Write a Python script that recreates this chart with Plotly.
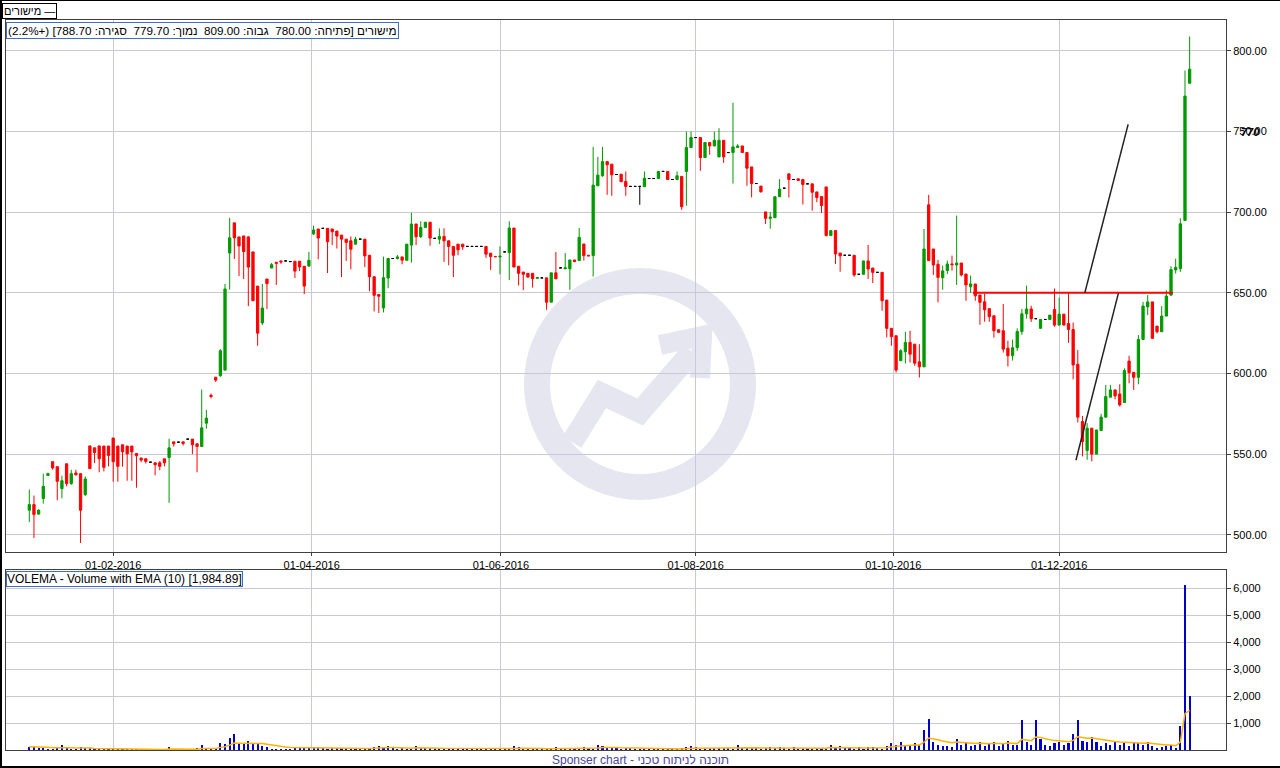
import plotly.graph_objects as go

W, H = 1280, 768

# ---------------- data ----------------
open_ = [
    515.2, 518.7, 512.8, 522.4, 536.8, 545.3, 542.2, 528.6, 544.0, 531.7,
    538.3, 537.9, 524.9, 555.1, 553.9, 555.1, 555.0, 555.0, 560.0, 555.0,
    555.8, 555.0, 555.0, 550.4, 547.5, 547.1, 545.0, 544.6, 544.6, 547.1,
    547.9, 557.6, 557.4, 557.6, 559.3, 559.3, 556.4, 554.7, 569.2, 586.5,
    597.7, 598.6, 602.1, 674.7, 693.4, 684.7, 685.3, 684.7, 675.4, 654.2,
    631.3, 658.6, 665.4, 669.0, 669.8, 669.8, 669.4, 669.6, 669.6, 666.5,
    666.7, 686.5, 689.6, 690.0, 690.0, 689.6, 688.3, 685.8, 683.3, 682.3,
    680.2, 683.3, 683.3, 673.3, 660.0, 649.0, 640.6, 659.2, 671.3, 671.3,
    672.3, 670.2, 679.6, 692.7, 684.8, 690.6, 693.8, 683.8, 683.3, 685.0,
    682.3, 678.8, 680.2, 680.2, 678.8, 678.8, 678.8, 678.8, 678.8, 674.6,
    672.6, 672.3, 675.4, 675.0, 690.2, 666.5, 662.9, 662.1, 662.1, 659.0,
    659.3, 659.3, 644.2, 662.4, 665.5, 664.9, 664.9, 670.4, 670.0, 680.3,
    673.3, 673.1, 716.4, 722.6, 731.4, 729.8, 723.4, 723.6, 719.1, 716.0,
    716.0, 716.0, 715.8, 720.9, 720.9, 720.9, 725.3, 725.3, 720.3, 720.3,
    722.2, 725.3, 740.1, 746.3, 746.3, 733.9, 743.2, 741.1, 734.3, 744.6,
    737.0, 737.0, 740.1, 741.1, 737.0, 728.1, 717.8, 716.2, 700.2, 696.2,
    696.6, 709.6, 714.9, 723.8, 720.3, 720.7, 720.3, 717.6, 717.6, 712.6,
    709.7, 715.7, 685.5, 688.6, 674.7, 673.3, 673.3, 673.3, 661.5, 661.5,
    669.8, 665.4, 662.7, 662.7, 645.5, 628.0, 623.4, 607.9, 613.5, 619.3,
    618.2, 607.2, 604.1, 704.6, 677.2, 667.7, 659.4, 663.8, 667.9, 667.3,
    668.5, 661.7, 653.8, 655.5, 648.7, 644.5, 640.2, 635.8, 627.1, 626.5,
    615.7, 611.0, 616.0, 626.0, 637.0, 640.0, 634.0, 628.0, 633.5, 633.5,
    639.7, 630.0, 636.8, 631.0, 627.3, 605.7, 570.2, 552.3, 566.1, 550.0,
    564.6, 572.9, 585.3, 589.8, 587.3, 582.0, 607.7, 600.7, 597.6, 621.1,
    641.3, 644.4, 629.4, 625.9, 635.6, 648.6, 664.2, 665.0, 694.9, 780.0,
]
high = [
    528.0, 524.3, 515.8, 537.9, 538.5, 545.5, 542.2, 536.6, 544.0, 540.3,
    540.3, 538.0, 536.2, 555.1, 554.0, 555.1, 555.0, 555.0, 560.0, 555.0,
    555.8, 555.0, 555.0, 550.6, 548.0, 547.5, 545.0, 544.6, 545.7, 547.1,
    559.5, 557.6, 557.4, 557.6, 559.3, 559.3, 556.4, 590.0, 577.4, 587.5,
    597.7, 615.1, 655.5, 696.5, 693.4, 684.7, 685.3, 685.3, 675.4, 654.2,
    655.5, 658.6, 668.5, 669.0, 670.0, 669.8, 669.4, 669.6, 669.6, 666.5,
    675.4, 691.7, 689.6, 690.0, 690.0, 689.6, 688.3, 685.8, 683.3, 685.0,
    684.8, 683.3, 683.3, 673.3, 660.0, 649.0, 672.5, 671.3, 671.3, 673.5,
    672.3, 680.2, 699.6, 692.7, 694.4, 693.8, 693.8, 683.8, 690.0, 690.0,
    682.3, 678.8, 680.2, 680.2, 678.8, 678.8, 678.8, 678.8, 678.8, 674.6,
    672.6, 678.8, 675.4, 694.4, 690.2, 666.5, 662.9, 662.1, 662.1, 659.5,
    659.3, 659.3, 662.4, 675.4, 665.5, 674.7, 670.4, 670.4, 690.2, 680.3,
    673.3, 740.5, 734.3, 740.5, 731.4, 729.8, 723.4, 723.6, 725.3, 716.0,
    716.0, 716.0, 725.3, 720.9, 720.9, 725.3, 725.3, 725.3, 720.3, 725.3,
    722.2, 750.0, 750.0, 746.3, 746.3, 743.2, 743.2, 750.0, 752.1, 744.6,
    737.0, 767.9, 742.2, 741.1, 737.0, 728.1, 717.8, 716.2, 700.2, 700.2,
    709.6, 720.5, 714.9, 723.8, 720.3, 720.7, 720.3, 717.6, 717.6, 712.6,
    709.7, 715.7, 688.6, 688.6, 674.7, 673.3, 673.3, 673.3, 661.5, 669.8,
    679.7, 665.4, 662.7, 662.7, 645.5, 628.0, 623.4, 615.1, 625.9, 626.5,
    618.2, 618.2, 689.6, 710.8, 677.2, 670.4, 666.9, 670.0, 673.1, 697.9,
    668.5, 661.7, 660.7, 655.5, 648.7, 649.3, 640.2, 635.8, 627.6, 643.1,
    620.3, 621.0, 628.0, 640.0, 654.5, 642.0, 634.0, 633.5, 633.5, 636.2,
    652.7, 647.1, 636.8, 650.0, 631.6, 614.5, 573.7, 569.2, 566.1, 565.0,
    575.0, 592.9, 592.9, 589.8, 593.3, 603.2, 611.0, 600.7, 623.8, 644.4,
    648.6, 644.4, 629.4, 641.8, 651.6, 666.5, 671.2, 696.3, 787.9, 809.0,
]
low = [
    507.8, 498.0, 512.5, 519.3, 536.5, 540.3, 521.4, 522.6, 530.0, 531.0,
    536.6, 494.9, 524.0, 541.0, 544.4, 538.7, 539.3, 542.4, 532.9, 532.9,
    542.2, 533.5, 533.5, 529.2, 545.0, 544.2, 545.0, 536.8, 540.0, 542.4,
    519.8, 554.7, 557.4, 555.3, 559.3, 550.0, 538.7, 554.7, 565.8, 584.5,
    594.8, 598.0, 601.7, 652.0, 671.0, 660.5, 658.6, 641.8, 645.1, 617.2,
    630.0, 640.0, 665.4, 654.9, 668.0, 669.8, 669.4, 659.2, 663.5, 649.2,
    666.0, 686.0, 670.8, 690.0, 662.3, 679.6, 677.5, 659.8, 669.8, 664.6,
    680.0, 683.3, 666.0, 651.0, 638.5, 637.5, 637.9, 652.9, 671.3, 670.8,
    667.7, 670.2, 668.8, 679.6, 684.0, 690.6, 679.2, 683.8, 680.2, 669.2,
    667.1, 659.8, 673.3, 676.7, 678.8, 678.8, 678.8, 678.8, 671.7, 664.2,
    672.4, 661.5, 675.4, 657.9, 666.0, 654.6, 651.7, 659.4, 653.3, 659.0,
    659.3, 639.5, 644.2, 658.7, 665.5, 664.9, 651.9, 669.0, 670.0, 670.0,
    672.9, 660.1, 716.4, 722.0, 710.8, 710.2, 723.4, 718.9, 710.2, 716.0,
    716.0, 704.6, 715.8, 720.9, 720.9, 720.9, 725.3, 720.3, 720.3, 720.3,
    701.5, 704.0, 740.1, 746.3, 725.7, 733.9, 735.6, 741.1, 734.3, 730.6,
    737.0, 717.8, 740.1, 737.0, 716.4, 709.2, 717.8, 712.1, 692.7, 689.8,
    696.6, 709.6, 714.9, 709.1, 720.3, 719.7, 704.8, 717.6, 701.0, 706.2,
    699.6, 685.1, 685.5, 667.9, 663.1, 673.3, 673.3, 660.0, 661.5, 661.5,
    658.6, 656.1, 662.7, 638.9, 622.4, 617.2, 600.6, 607.9, 606.2, 606.8,
    604.8, 597.5, 604.1, 670.0, 661.1, 644.1, 652.0, 661.7, 663.8, 654.9,
    660.2, 645.1, 649.9, 645.1, 630.2, 632.1, 632.1, 622.2, 625.0, 613.0,
    604.3, 608.0, 614.0, 624.0, 634.0, 632.0, 634.0, 628.0, 633.5, 633.5,
    629.0, 630.0, 630.0, 619.0, 596.4, 569.6, 548.6, 546.5, 545.5, 550.0,
    564.6, 572.9, 585.3, 584.0, 579.5, 582.0, 593.9, 589.8, 593.3, 621.1,
    636.2, 621.8, 624.8, 625.9, 635.6, 648.0, 662.0, 663.0, 694.9, 779.7,
]
close = [
    518.7, 512.6, 515.2, 530.0, 537.9, 541.4, 533.1, 533.5, 531.7, 537.9,
    537.2, 515.2, 534.6, 541.0, 551.0, 547.1, 541.8, 549.2, 545.3, 542.4,
    551.4, 550.2, 551.4, 549.0, 546.3, 545.5, 545.0, 543.4, 542.4, 544.6,
    553.9, 556.4, 557.4, 556.6, 559.3, 555.8, 554.7, 566.3, 572.3, 585.8,
    595.9, 614.1, 652.4, 684.1, 684.1, 679.1, 675.6, 666.0, 645.1, 625.0,
    640.6, 655.7, 667.5, 668.3, 669.2, 669.8, 669.4, 663.5, 666.0, 654.2,
    670.2, 689.0, 684.0, 690.0, 681.7, 687.9, 685.2, 683.3, 681.3, 677.1,
    683.3, 683.3, 672.9, 660.0, 648.5, 647.9, 659.4, 671.3, 671.3, 672.3,
    670.2, 680.2, 692.7, 684.8, 690.6, 693.8, 684.0, 683.8, 685.0, 682.3,
    678.8, 673.3, 676.7, 678.5, 678.8, 678.8, 678.8, 678.8, 674.0, 672.5,
    672.4, 672.7, 675.4, 690.2, 666.0, 662.1, 661.5, 659.8, 658.8, 659.5,
    659.3, 644.2, 662.4, 658.7, 665.5, 665.5, 670.4, 669.4, 684.4, 673.1,
    672.9, 716.8, 723.0, 731.4, 729.4, 723.2, 723.4, 718.9, 716.0, 716.0,
    716.0, 716.0, 721.1, 720.9, 720.9, 725.3, 725.3, 720.3, 720.3, 722.6,
    703.4, 740.1, 746.3, 746.3, 733.9, 743.2, 741.1, 744.6, 744.6, 734.3,
    737.0, 740.5, 741.1, 737.0, 727.3, 717.8, 717.8, 712.7, 696.2, 697.0,
    709.6, 714.3, 714.9, 720.3, 720.3, 719.7, 717.2, 717.6, 712.4, 709.1,
    704.1, 685.5, 688.6, 674.1, 672.9, 673.3, 673.3, 661.1, 661.5, 669.8,
    664.8, 662.7, 662.7, 645.1, 628.0, 622.8, 602.1, 614.1, 619.3, 612.0,
    606.4, 604.1, 677.2, 670.0, 667.3, 659.6, 663.6, 667.9, 667.5, 668.5,
    661.1, 654.9, 655.5, 648.2, 644.1, 639.5, 635.2, 626.5, 625.5, 615.1,
    611.0, 616.0, 626.0, 637.0, 640.0, 634.0, 634.0, 633.5, 633.5, 636.2,
    630.0, 636.8, 630.0, 627.3, 605.3, 572.9, 557.8, 566.1, 550.0, 565.0,
    572.9, 585.7, 589.8, 586.1, 580.5, 601.8, 600.5, 597.6, 621.1, 641.8,
    644.4, 621.8, 625.9, 635.6, 648.0, 664.4, 665.8, 692.8, 772.0, 788.7,
]
volume = [
    123, 123, 86, 86, 37, 37, 98, 185, 62, 37,
    10, 111, 49, 49, 10, 37, 5, 37, 37, 37,
    37, 5, 5, 5, 5, 5, 5, 5, 37, 5,
    111, 5, 5, 5, 5, 5, 74, 185, 74, 74,
    49, 270, 221, 455, 603, 234, 221, 332, 258, 221,
    160, 111, 37, 37, 37, 5, 5, 74, 40, 60,
    100, 50, 120, 80, 30, 90, 60, 40, 70, 50,
    40, 30, 40, 80, 120, 150, 100, 130, 60, 30,
    40, 30, 90, 150, 90, 80, 60, 70, 30, 40,
    60, 80, 90, 50, 40, 20, 20, 20, 20, 60,
    40, 30, 50, 20, 150, 120, 80, 60, 40, 50,
    20, 20, 80, 100, 60, 20, 40, 60, 30, 100,
    60, 20, 200, 150, 120, 90, 70, 30, 60, 50,
    20, 20, 30, 40, 20, 20, 40, 20, 50, 20,
    40, 100, 150, 120, 30, 80, 60, 50, 70, 90,
    80, 30, 200, 40, 50, 80, 100, 30, 60, 120,
    80, 100, 90, 30, 100, 30, 50, 70, 30, 80,
    60, 70, 200, 60, 150, 80, 40, 30, 120, 30,
    100, 120, 70, 30, 150, 250, 200, 300, 150, 200,
    250, 200, 750, 1150, 300, 200, 150, 150, 120, 400,
    200, 250, 150, 200, 300, 150, 250, 300, 150, 250,
    350, 200, 200, 1100, 300, 200, 1100, 400, 200, 150,
    250, 300, 200, 250, 600, 1100, 350, 300, 500, 300,
    150, 250, 200, 300, 200, 250, 150, 300, 250, 200,
    300, 150, 60, 100, 150, 180, 50, 900, 6100, 1984.89,
]

month_ticks = [18, 60.6, 101.2, 143, 185.4, 221]
month_labels = ["01-02-2016", "01-04-2016", "01-06-2016", "01-08-2016", "01-10-2016", "01-12-2016"]
price_ticks = [500, 550, 600, 650, 700, 750, 800]
volume_ticks = [1000, 2000, 3000, 4000, 5000, 6000]

support_level = 650
support_span = [202.5, 245.4]
trend_a_x, trend_a_y = [226.5, 235.8], [650.0, 754.5]
trend_b_x, trend_b_y = [224.6, 233.7], [546.2, 649.7]

ema_period = 10

# ---------------- styling ----------------
GREEN = "#009900"
RED = "#FF0000"
DOJI = "#000000"
VOL = "#0000CC"
EMA_C = "#FFB300"
GRID = "#C8C8D8"
AX = "#404040"
FONT = "Liberation Sans, Arial, sans-serif"

n = len(close)
idx = list(range(n))
ema = []
for v in volume:
    ema.append(v if not ema else ema[-1] + 2.0 / (ema_period + 1) * (v - ema[-1]))

fig = go.Figure()


def add_candles(sel, color, name):
    fig.add_trace(go.Candlestick(
        x=[idx[i] for i in sel],
        open=[open_[i] for i in sel], high=[high[i] for i in sel],
        low=[low[i] for i in sel], close=[close[i] for i in sel],
        increasing=dict(line=dict(color=color, width=1), fillcolor=color),
        decreasing=dict(line=dict(color=color, width=1), fillcolor=color),
        whiskerwidth=0, name=name, showlegend=False, hoverinfo="skip",
        xaxis="x", yaxis="y"))


add_candles([i for i in idx if close[i] > open_[i]], GREEN, "up")
add_candles([i for i in idx if close[i] < open_[i]], RED, "down")
add_candles([i for i in idx if close[i] == open_[i]], DOJI, "flat")

fig.add_trace(go.Scatter(x=idx, y=ema, mode="lines", line=dict(color=EMA_C, width=1.5),
                         showlegend=False, hoverinfo="skip", xaxis="x2", yaxis="y2"))
fig.add_trace(go.Bar(x=idx, y=volume, marker=dict(color=VOL, line=dict(width=0)), width=0.45,
                     showlegend=False, hoverinfo="skip", xaxis="x2", yaxis="y2"))


def px(x, y):
    return x / W, 1 - y / H


xdom = [6 / W, 1226 / W]
xrange_ = [-5.0, 256.8]

shapes = []
# watermark logo
cx, cy, r = 640, 384, 103
shapes.append(dict(type="circle", xref="paper", yref="paper",
                   x0=(cx - r) / W, x1=(cx + r) / W, y0=1 - (cy + r) / H, y1=1 - (cy - r) / H,
                   line=dict(color="#E6E6F0", width=26), layer="below"))
pts = [(572, 442), (602, 394), (640, 412), (692, 352)]
path = "M " + " L ".join("%.5f,%.5f" % px(a, b) for a, b in pts)
shapes.append(dict(type="path", xref="paper", yref="paper", path=path,
                   line=dict(color="#E6E6F0", width=22), layer="below"))
head = [(660, 345), (702, 336), (700, 378)]
path2 = "M " + " L ".join("%.5f,%.5f" % px(a, b) for a, b in head)
shapes.append(dict(type="path", xref="paper", yref="paper", path=path2,
                   line=dict(color="#E6E6F0", width=20), layer="below"))

# drawings
shapes.append(dict(type="line", xref="x", yref="y", x0=support_span[0], x1=support_span[1],
                   y0=support_level, y1=support_level, line=dict(color=RED, width=2)))
shapes.append(dict(type="line", xref="x", yref="y", x0=trend_a_x[0], x1=trend_a_x[1],
                   y0=trend_a_y[0], y1=trend_a_y[1], line=dict(color="#222222", width=1.5)))
shapes.append(dict(type="line", xref="x", yref="y", x0=trend_b_x[0], x1=trend_b_x[1],
                   y0=trend_b_y[0], y1=trend_b_y[1], line=dict(color="#222222", width=1.5)))
# window frame lines
shapes.append(dict(type="line", xref="paper", yref="paper", x0=1 / W, x1=1 / W, y0=0, y1=1,
                   line=dict(color="#000000", width=2)))
shapes.append(dict(type="line", xref="paper", yref="paper", x0=0, x1=1, y0=1 - 767 / H, y1=1 - 767 / H,
                   line=dict(color="#000000", width=2)))
shapes.append(dict(type="line", xref="paper", yref="paper", x0=0, x1=1, y0=1 - 0.5 / H, y1=1 - 0.5 / H,
                   line=dict(color="#000000", width=1)))

annotations = [
    dict(xref="paper", yref="paper", x=2 / W, y=1 - 3 / H, xanchor="left", yanchor="top",
         text="מישורים —", showarrow=False, font=dict(family=FONT, size=11, color="#000"),
         bordercolor="#000", borderwidth=1, borderpad=1, bgcolor="#FFFFFF"),
    dict(xref="paper", yref="paper", x=6 / W, y=1 - 22 / H, xanchor="left", yanchor="top",
         text="\u202bמישורים [פתיחה: 780.00  גבוה: 809.00  נמוך: 779.70  סגירה: 788.70] (+2.2%)\u202c",
         showarrow=False, font=dict(family=FONT, size=11.7, color="#000"),
         bordercolor="#3F6FC5", borderwidth=1, borderpad=1, bgcolor="#FFFFFF"),
    dict(xref="paper", yref="paper", x=6 / W, y=1 - 571 / H, xanchor="left", yanchor="top",
         text="VOLEMA - Volume with EMA (10) [1,984.89]", showarrow=False,
         font=dict(family=FONT, size=12, color="#000"),
         bordercolor="#3F6FC5", borderwidth=1, borderpad=0, bgcolor="#FFFFFF"),
    dict(xref="paper", yref="paper", x=640 / W, y=1 - 760 / H, xanchor="center", yanchor="middle",
         text="Sponser chart - תוכנה לניתוח טכני", showarrow=False,
         font=dict(family=FONT, size=12, color="#4B45A0")),
    dict(xref="paper", yref="paper", x=1250 / W, y=1 - 132 / H, xanchor="center", yanchor="middle",
         text="<b><i>770</i></b>", showarrow=False, font=dict(family=FONT, size=11, color="#000")),
]

axis_common = dict(showgrid=True, gridcolor=GRID, gridwidth=1, zeroline=False, showline=True,
                   mirror=True, linecolor=AX, linewidth=1, ticks="outside", tickcolor=AX,
                   tickfont=dict(family=FONT, size=11, color="#000"))

fig.update_layout(
    width=W, height=H, margin=dict(l=0, r=0, t=0, b=0),
    paper_bgcolor="#FFFFFF", plot_bgcolor="#FFFFFF", showlegend=False,
    boxgap=0.3, boxgroupgap=0.3, bargap=0,
    xaxis=dict(domain=xdom, anchor="y", range=xrange_, tickmode="array", tickvals=month_ticks,
               ticktext=month_labels, ticklen=3, rangeslider=dict(visible=False), **axis_common),
    yaxis=dict(domain=[1 - 552 / H, 1 - 20 / H], anchor="x", side="right", range=[489.3, 819.2],
               tickmode="array", tickvals=price_ticks, ticktext=["%.2f" % v for v in price_ticks],
               ticklen=4, **axis_common),
    xaxis2=dict(domain=xdom, anchor="y2", range=xrange_, tickmode="array", tickvals=month_ticks,
                showticklabels=False, ticklen=0, **{k: v for k, v in axis_common.items() if k != "ticks"}),
    yaxis2=dict(domain=[1 - 750 / H, 1 - 570 / H], anchor="x2", side="right", range=[0, 6667],
                tickmode="array", tickvals=volume_ticks, ticktext=["{:,}".format(v) for v in volume_ticks],
                ticklen=4, **axis_common),
    shapes=shapes, annotations=annotations,
)

fig.write_html("out.html", config={"displayModeBar": False},
               post_script="document.body.style.margin='0';document.body.style.overflow='hidden';")
